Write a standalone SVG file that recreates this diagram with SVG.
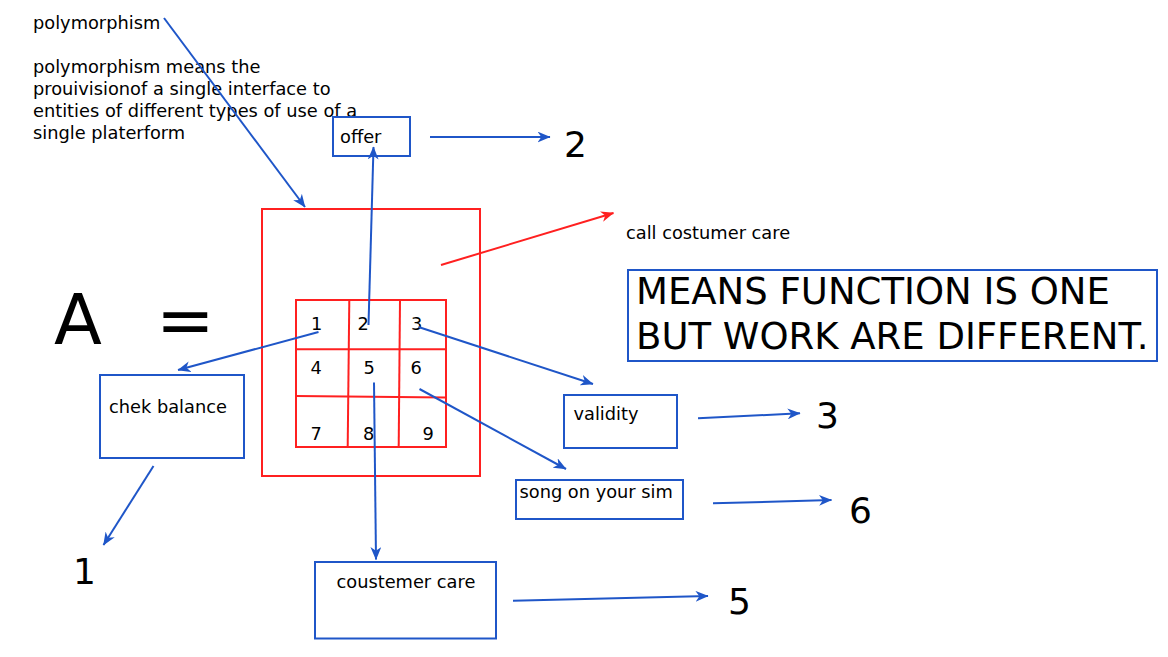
<svg xmlns="http://www.w3.org/2000/svg" width="1168" height="657" viewBox="0 0 1168 657">
<style>
text{font-family:"DejaVu Sans","Noto Sans",sans-serif;fill:#000}
.t{font-size:17.8px}
.big{font-size:36px}
.means{font-size:37px}
.huge{font-size:70px}
.bx{fill:none;stroke:#1f56c8;stroke-width:2}
.rd{fill:none;stroke:#ff2020;stroke-width:2}
.c{fill:none;stroke:#1f56c8;stroke-width:2;marker-end:url(#ab)}
.cr{fill:none;stroke:#ff2020;stroke-width:2;marker-end:url(#ar)}
</style>
<defs>
<marker id="ab" viewBox="0 0 12 10" refX="11.5" refY="5" markerWidth="13" markerHeight="11" markerUnits="userSpaceOnUse" orient="auto"><path d="M0,0 L12,5 L0,10 L3.5,5 Z" fill="#1f56c8"/></marker>
<marker id="ar" viewBox="0 0 12 10" refX="11.5" refY="5" markerWidth="13" markerHeight="11" markerUnits="userSpaceOnUse" orient="auto"><path d="M0,0 L12,5 L0,10 L3.5,5 Z" fill="#ff2020"/></marker>
</defs>
<rect width="1168" height="657" fill="#fff"/>

<g id="polymorphism-title"><text class="t" x="33" y="29">polymorphism</text></g>
<g id="polymorphism-desc">
<text class="t" x="33" y="73">polymorphism means the</text>
<text class="t" x="33" y="95">prouivisionof a single interface to</text>
<text class="t" x="33" y="117">entities of different types of use of a</text>
<text class="t" x="33" y="139">single platerform</text>
</g>

<g id="A-equals"><text class="huge" x="54" y="344">A</text><text class="huge" x="156" y="344">=</text></g>

<g id="outer-square"><rect class="rd" x="262" y="209" width="218" height="267"/></g>
<g id="grid">
<rect class="rd" x="296" y="300" width="150" height="147"/>
<line class="rd" x1="349.3" y1="300" x2="347.7" y2="447"/>
<line class="rd" x1="400" y1="300" x2="398.7" y2="447"/>
<line class="rd" x1="296" y1="349.3" x2="446" y2="349.3"/>
<line class="rd" x1="296" y1="396" x2="446" y2="397.5"/>
<text class="t" x="311" y="330">1</text>
<text class="t" x="357.5" y="330">2</text>
<text class="t" x="411" y="330">3</text>
<text class="t" x="310.5" y="374">4</text>
<text class="t" x="363.5" y="374">5</text>
<text class="t" x="410.5" y="374">6</text>
<text class="t" x="310.5" y="440">7</text>
<text class="t" x="363" y="440">8</text>
<text class="t" x="422.5" y="440">9</text>
</g>

<g id="offer"><rect class="bx" x="333" y="117" width="77" height="39"/><text class="t" x="340" y="143">offer</text></g>
<g id="label-2"><text class="big" x="564" y="157">2</text></g>
<g id="call-costumer-care"><text class="t" x="626" y="239">call costumer care</text></g>
<g id="means-box"><rect class="bx" x="628" y="270" width="529" height="91"/>
<text class="means" x="636" y="304">MEANS FUNCTION IS ONE</text>
<text class="means" x="636" y="349">BUT WORK ARE DIFFERENT.</text></g>
<g id="chek-balance"><rect class="bx" x="100" y="375" width="144" height="83"/><text class="t" x="109" y="413">chek balance</text></g>
<g id="label-1"><text class="big" x="73" y="584">1</text></g>
<g id="validity"><rect class="bx" x="564" y="395" width="113" height="53"/><text class="t" x="573.5" y="420">validity</text></g>
<g id="label-3"><text class="big" x="816" y="428">3</text></g>
<g id="song"><rect class="bx" x="516" y="480" width="167" height="39"/><text class="t" x="519.5" y="498">song on your sim</text></g>
<g id="label-6"><text class="big" x="849" y="523">6</text></g>
<g id="coustemer-care"><rect class="bx" x="315" y="562" width="181" height="76.5"/><text class="t" x="336.5" y="588">coustemer care</text></g>
<g id="label-5"><text class="big" x="728" y="614">5</text></g>

<g id="connectors">
<line class="c" x1="164" y1="18" x2="305" y2="207"/>
<line class="c" x1="368.5" y1="325" x2="373.5" y2="147"/>
<line class="c" x1="430" y1="137" x2="550" y2="137"/>
<line class="cr" x1="441" y1="265" x2="613.5" y2="213"/>
<line class="c" x1="318.5" y1="332" x2="178" y2="370"/>
<line class="c" x1="153.5" y1="466" x2="103.5" y2="545"/>
<line class="c" x1="418.5" y1="327" x2="593" y2="384"/>
<line class="c" x1="698" y1="418.3" x2="800" y2="413.3"/>
<line class="c" x1="419.5" y1="389" x2="566" y2="469"/>
<line class="c" x1="713" y1="503.3" x2="831.5" y2="500"/>
<line class="c" x1="374" y1="382.5" x2="376" y2="559.5"/>
<line class="c" x1="513" y1="600.7" x2="708" y2="596"/>
</g>
</svg>
